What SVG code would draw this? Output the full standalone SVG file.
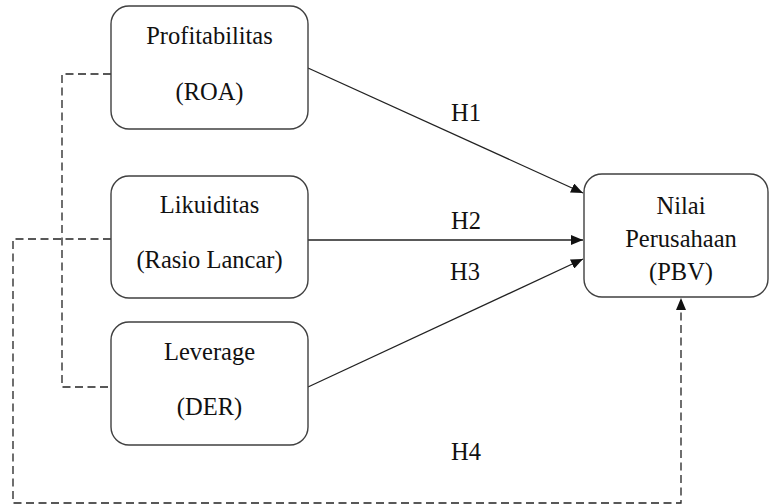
<svg xmlns="http://www.w3.org/2000/svg" width="770" height="504" viewBox="0 0 770 504">
<style>
.box{fill:#fff;stroke:#404040;stroke-width:1.4}
.t{font-family:'Liberation Serif','Times New Roman',serif;font-size:24.5px;fill:#111;text-anchor:middle}
.ln{fill:none;stroke:#222;stroke-width:1.3}
.dash{fill:none;stroke:#222;stroke-width:1.3;stroke-dasharray:8 4.5}
</style>
<defs>
<marker id="ah" viewBox="0 0 12 10" refX="12" refY="5" markerWidth="12" markerHeight="10" markerUnits="userSpaceOnUse" orient="auto">
<path d="M0,0 L12,5 L0,10 Z" fill="#111"/>
</marker>
</defs>
<rect width="770" height="504" fill="#fff"/>
<g id="connectors">
<path class="dash" d="M111,74 H62 V387 H111"/>
<path class="dash" d="M111,239 H13 V503 H681 V298" marker-end="url(#ah)"/>
<line class="ln" x1="308" y1="68" x2="583" y2="193" marker-end="url(#ah)"/>
<line class="ln" x1="308" y1="240" x2="583" y2="240" marker-end="url(#ah)"/>
<line class="ln" x1="308" y1="387" x2="583" y2="259" marker-end="url(#ah)"/>
<text class="t" x="466" y="121">H1</text>
<text class="t" x="466" y="229">H2</text>
<text class="t" x="465" y="280">H3</text>
<text class="t" x="466" y="460">H4</text>
</g>
<g id="roa">
<rect class="box" x="111" y="6" width="197" height="123" rx="18"/>
<text class="t" x="209.5" y="44">Profitabilitas</text>
<text class="t" x="209.5" y="100">(ROA)</text>
</g>
<g id="likuiditas">
<rect class="box" x="111" y="176" width="197" height="122" rx="18"/>
<text class="t" x="209.5" y="213">Likuiditas</text>
<text class="t" x="209.5" y="268">(Rasio Lancar)</text>
</g>
<g id="leverage">
<rect class="box" x="111" y="322" width="197" height="123" rx="18"/>
<text class="t" x="209.5" y="360">Leverage</text>
<text class="t" x="209.5" y="415">(DER)</text>
</g>
<g id="nilai">
<rect class="box" x="584" y="174" width="184" height="123" rx="18"/>
<text class="t" x="681" y="214">Nilai</text>
<text class="t" x="681" y="247">Perusahaan</text>
<text class="t" x="681" y="280">(PBV)</text>
</g>
</svg>
